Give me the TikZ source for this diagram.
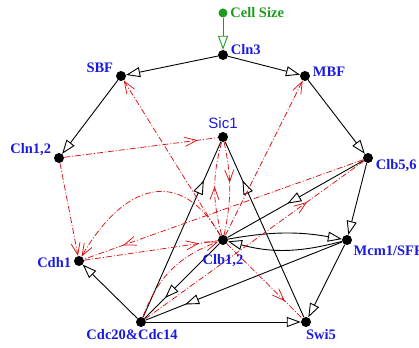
\documentclass[tikz,border=0pt]{standalone}
\usepackage{fontspec}
\setmainfont{Liberation Serif}
\newfontfamily\sicfont{Liberation Sans}
\usetikzlibrary{arrows.meta,decorations.markings,backgrounds}
\definecolor{inhline}{HTML}{DD1111}
\definecolor{namblue}{HTML}{1A1AE0}
\definecolor{sizegreen}{HTML}{1E9A1E}

\begin{document}
\begin{tikzpicture}[
  x=1pt, y=1pt,
  font=\fontsize{14.5}{16}\selectfont\bfseries,
  prot/.style={circle, fill=black, inner sep=0pt, minimum size=10pt},
  lbl/.style={text=namblue, inner sep=2.5pt},
  act/.style={-{Triangle[length=14pt,width=10pt,fill=white]}, line width=0.9pt},
  midact/.style={line width=0.9pt, postaction={decorate, decoration={markings,
      mark=at position #1 with {\arrow{Triangle[length=14pt,width=10pt,fill=white]}}}}},
  inh/.style={-{Straight Barb[length=12pt,width=9pt]}, draw=inhline, line width=0.75pt,
      dash pattern=on 6pt off 2pt on 1pt off 2pt},
  midinh/.style={draw=inhline, line width=0.75pt, dash pattern=on 6pt off 2pt on 1pt off 2pt,
      postaction={decorate, decoration={markings,
      mark=at position #1 with {\arrow{Straight Barb[length=12pt,width=9pt]}}}}}
]
  \useasboundingbox (0,0) rectangle (419,347);

  \node[prot, fill=sizegreen, minimum size=9pt, label={[lbl, text=sizegreen]right:Cell Size}] (size) at (223,334) {};
  \node[prot, label={[lbl, yshift=5pt]right:Cln3}] (cln3) at (223,292) {};
  \node[prot, label={[lbl, yshift=8pt]left:SBF}] (sbf) at (121,271) {};
  \node[prot, label={[lbl, yshift=4pt]right:MBF}] (mbf) at (305,271) {};
  \node[prot, label={[lbl, font=\fontsize{15}{17}\sicfont]above:Sic1}] (sic1) at (223,210) {};
  \node[prot, label={[lbl, yshift=8pt]left:Cln1,2}] (cln12) at (59,189) {};
  \node[prot, label={[lbl, yshift=-8pt]right:Clb5,6}] (clb56) at (368,189) {};
  \node[prot, label={[lbl, yshift=-7pt]below:Clb1,2}] (clb12) at (223,107) {};
  \node[prot, label={[lbl]-40:Mcm1/SFF}] (mcm) at (347,107) {};
  \node[prot, label={[lbl, yshift=-2pt]left:Cdh1}] (cdh1) at (79,86) {};
  \node[prot, label={[lbl, xshift=-9pt]below:Cdc20\&Cdc14}] (cdc20) at (141,25) {};
  \node[prot, label={[lbl, xshift=15pt]below:Swi5}] (swi5) at (306,25) {};

  \begin{scope}[on background layer]
    % activation
    \draw[act, draw=sizegreen] (size) -- (cln3);
    \draw[act] (cln3) -- (sbf);
    \draw[act] (cln3) -- (mbf);
    \draw[act] (sbf) -- (cln12);
    \draw[act] (mbf) -- (clb56);
    \draw[act] (clb56) -- (mcm);
    \draw[midact=0.56] (clb56) -- (clb12);
    \draw[act] (clb12) to[bend left=10] (mcm);
    \draw[act] (mcm) to[bend left=15] (clb12);
    \draw[midact=0.80] (mcm) -- (cdc20);
    \draw[midact=0.73] (clb12) -- (cdc20);
    \draw[act] (mcm) -- (swi5);
    \draw[act] (cdc20) -- (swi5);
    \draw[act] (cdc20) -- (cdh1);
    \draw[midact=0.78] (cdc20) -- (sic1);
    \draw[midact=0.78] (swi5) -- (sic1);
    % inhibition
    \draw[inh] (clb12) -- (sbf);
    \draw[inh] (clb12) -- (mbf);
    \draw[midinh=0.87] (cln12) -- (sic1);
    \draw[inh] (cln12) -- (cdh1);
    \draw[midinh=0.52] (clb12) to[bend left=15] (sic1);
    \draw[midinh=0.44] (sic1) to[bend left=12] (clb12);
    \draw[inh] (clb12) to[out=120, in=60, looseness=1.5] (cdh1);
    \draw[midinh=0.86] (cdh1) -- (clb12);
    \draw[midinh=0.86] (clb56) -- (cdh1);
    \draw[midinh=0.74] (cdc20) -- (clb56);
    \draw[inh] (cdc20) to[bend left=25] (clb12);
    \draw[midinh=0.77] (clb12) -- (swi5);
  \end{scope}
\end{tikzpicture}
\end{document}
